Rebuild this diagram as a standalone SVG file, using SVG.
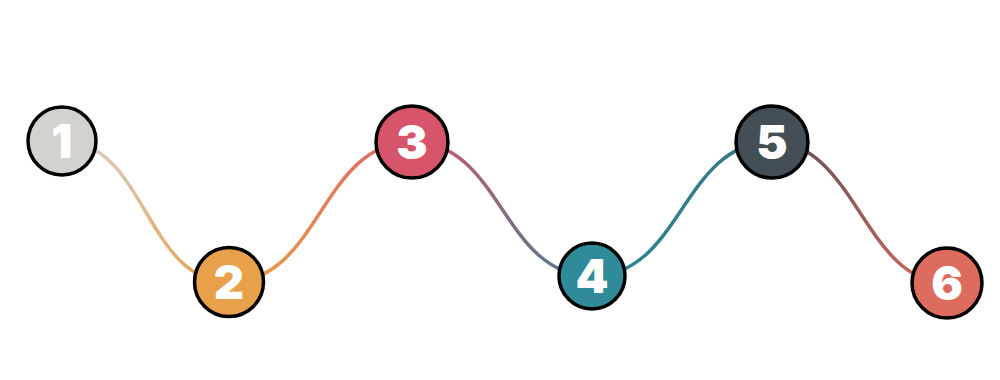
<svg xmlns="http://www.w3.org/2000/svg" width="1000" height="380" viewBox="0 0 1000 380">
  <style>
    .conn { fill: none; stroke-width: 3.5; stroke-linecap: round; }
    .node circle { stroke: #000; stroke-width: 3.5; }
    .node text { font-family: Inter, "DejaVu Sans", "Liberation Sans", sans-serif; font-weight: 900; font-size: 47px; fill: #fff; text-anchor: middle; }
  </style>
  <defs>
    <linearGradient id="g12" gradientUnits="userSpaceOnUse" x1="62" y1="141" x2="229" y2="282">
      <stop offset="0" stop-color="#d4d2cc"/><stop offset="1" stop-color="#e8a04a"/>
    </linearGradient>
    <linearGradient id="g23" gradientUnits="userSpaceOnUse" x1="229" y1="282" x2="412" y2="142">
      <stop offset="0" stop-color="#e8a04a"/><stop offset="1" stop-color="#dd6760"/>
    </linearGradient>
    <linearGradient id="g34" gradientUnits="userSpaceOnUse" x1="412" y1="142" x2="592" y2="276">
      <stop offset="0" stop-color="#c9566b"/><stop offset="1" stop-color="#4d7f91"/>
    </linearGradient>
    <linearGradient id="g45" gradientUnits="userSpaceOnUse" x1="592" y1="276" x2="772" y2="142">
      <stop offset="0" stop-color="#2f8696"/><stop offset="1" stop-color="#357681"/>
    </linearGradient>
    <linearGradient id="g56" gradientUnits="userSpaceOnUse" x1="772" y1="142" x2="947" y2="283">
      <stop offset="0" stop-color="#5c5053"/><stop offset="1" stop-color="#d4695e"/>
    </linearGradient>
  </defs>
  <rect width="1000" height="380" fill="#fff"/>
  <g id="connectors">
    <path class="conn" stroke="url(#g12)" d="M62,141 C145.5,141 145.5,282 229,282"/>
    <path class="conn" stroke="url(#g23)" d="M229,282 C320.5,282 320.5,142 412,142"/>
    <path class="conn" stroke="url(#g34)" d="M412,142 C502,142 502,276 592,276"/>
    <path class="conn" stroke="url(#g45)" d="M592,276 C682,276 682,142 772,142"/>
    <path class="conn" stroke="url(#g56)" d="M772,142 C855,142 865,283 947,283"/>
  </g>
  <g id="node1" class="node"><circle cx="62" cy="141" r="34" fill="#d4d2cc"/><text x="62" y="158">1</text></g>
  <g id="node2" class="node"><circle cx="229" cy="282" r="34.5" fill="#e8a04a"/><text x="229" y="299">2</text></g>
  <g id="node3" class="node"><circle cx="412" cy="142" r="36" fill="#d6556a"/><text x="412" y="159">3</text></g>
  <g id="node4" class="node"><circle cx="592" cy="276" r="33" fill="#2f8a9a"/><text x="592" y="293">4</text></g>
  <g id="node5" class="node"><circle cx="772" cy="142" r="36" fill="#434f55"/><text x="772" y="159">5</text></g>
  <g id="node6" class="node"><circle cx="947" cy="283" r="35" fill="#dd6b5e"/><text x="947" y="300">6</text></g>
</svg>
